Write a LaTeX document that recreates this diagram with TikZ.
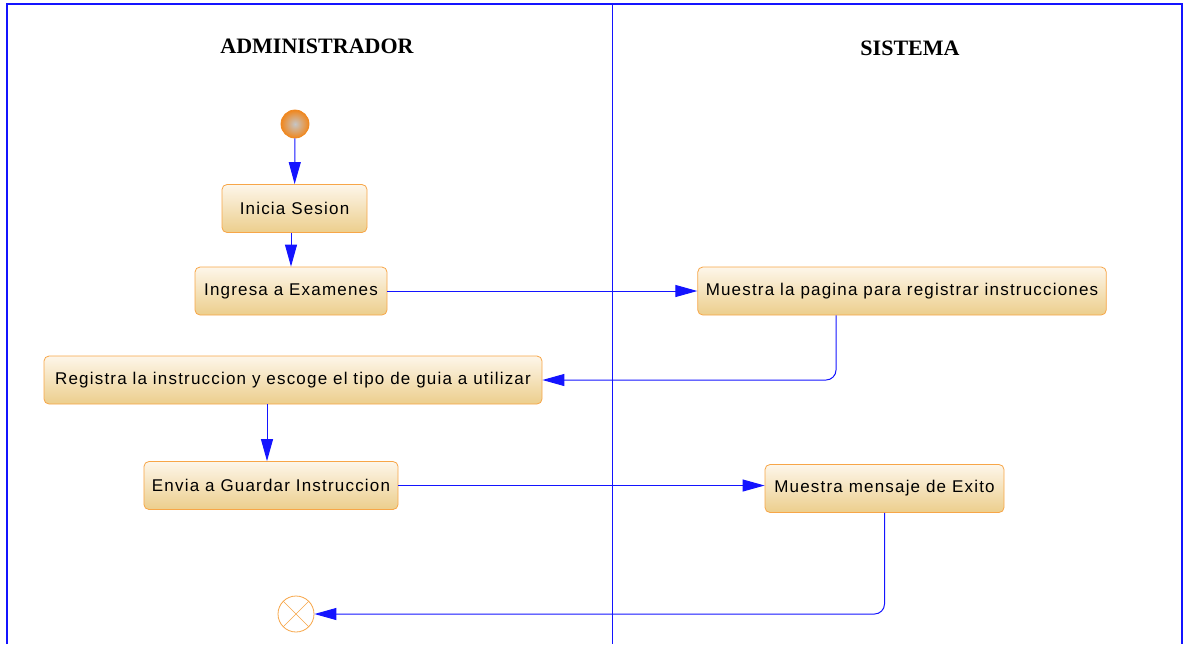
\documentclass[tikz,border=0pt]{standalone}
\usepackage{fontspec}
\setmainfont{Liberation Sans}
\newfontfamily\actfont[LetterSpace=7]{Liberation Sans}
\newfontfamily\lanefont{Liberation Serif}
\usetikzlibrary{arrows.meta}
\definecolor{laneblue}{RGB}{20,20,255}
\definecolor{actedge}{RGB}{247,166,72}
\definecolor{actlight}{RGB}{253,246,234}
\definecolor{actdark}{RGB}{236,206,140}
\definecolor{startor}{RGB}{240,135,30}
\tikzset{
	act/.style={draw=actedge,rounded corners=2.5pt,top color=actlight,bottom color=actdark,
		minimum height=24pt,inner xsep=4pt,font=\actfont\fontsize{8.5}{10}\selectfont},
	lanetitle/.style={font=\lanefont\bfseries\fontsize{11}{13}\selectfont},
	lanebox/.style={draw=laneblue,line width=.7pt},
	startnode/.style={circle,minimum size=14pt,inner sep=0pt,draw=startor,inner color=gray!45,outer color=startor},
	endnode/.style={circle,minimum size=18pt,inner sep=0pt,draw=actedge,fill=white},
	flow/.style={draw=laneblue,line width=.5pt,-{Triangle[length=11pt,width=6pt]},rounded corners=5pt}
}
\begin{document}
\begin{tikzpicture}[x=.5pt,y=-.5pt]
	\useasboundingbox(0,0)rectangle(1183,644);
	% swimlanes
	\draw[lanebox](7,644)--(7,4)--(1182,4)--(1182,644);
	\draw[draw=laneblue,line width=.5pt](612,4)--(612,644);
	\node[lanetitle](adm)at(317,46){ADMINISTRADOR};
	\node[lanetitle](sis)at(910,48){SISTEMA};
	% actions
	\node[startnode](ini)at(295,124){};
	\node[act,minimum width=72.5pt](s1)at(294.5,208.5){Inicia Sesion};
	\node[act,minimum width=96pt](s2)at(291,291){Ingresa a Examenes};
	\node[act,minimum width=202pt](p1)at(902,291){Muestra la pagina para registrar instrucciones};
	\node[act,minimum width=249pt](s3)at(293,380){Registra la instruccion y escoge el tipo de guia a utilizar};
	\node[act,minimum width=127pt](s4)at(271,485.5){Envia a Guardar Instruccion};
	\node[act,minimum width=119.5pt](p2)at(884.5,488.5){Muestra mensaje de Exito};
	\node[endnode](fin)at(296,614){};
	\draw[draw=actedge,line width=.3pt](fin.north west)--(fin.south east) (fin.north east)--(fin.south west);
	% flows
	\draw[flow](ini)--(s1);
	\draw[flow](s2.north|-s1.south)--(s2.north);
	\draw[flow](s2.east)--(p1.west);
	\draw[flow]([xshift=-33pt]p1.south)|-(s3.east);
	\draw[flow]([xshift=-2pt]s4.north|-s3.south)--([xshift=-2pt]s4.north);
	\draw[flow](s4.east)--(s4.east-|p2.west);
	\draw[flow](p2.south)|-(fin.east);
\end{tikzpicture}
\end{document}
